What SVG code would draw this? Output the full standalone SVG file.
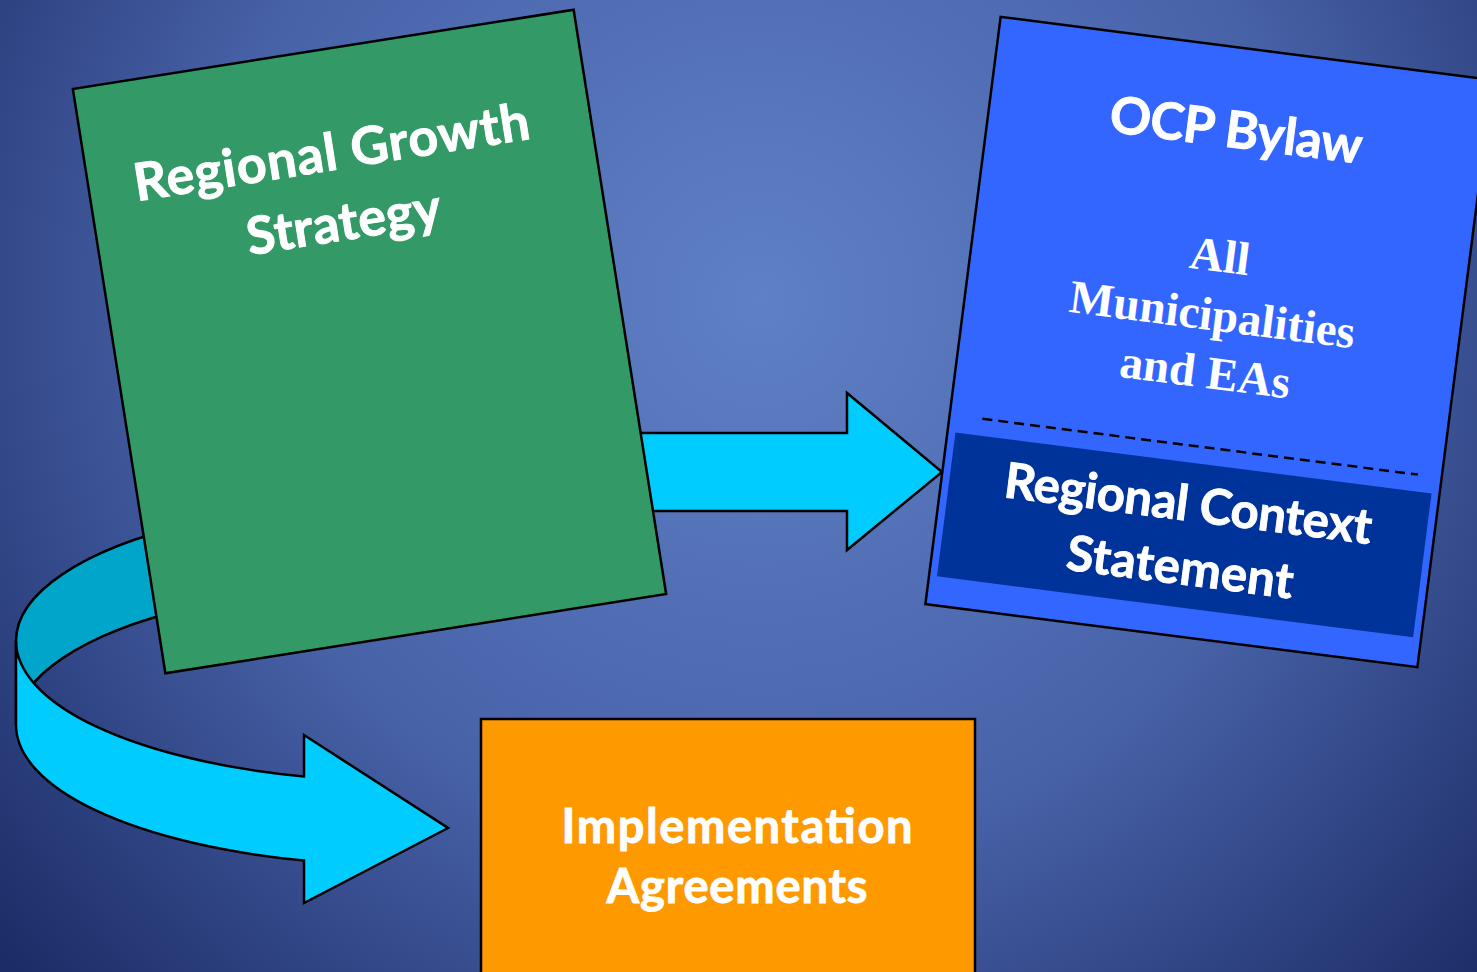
<svg xmlns="http://www.w3.org/2000/svg" width="1477" height="972" viewBox="0 0 1477 972">
<defs>
<radialGradient id="bg" gradientUnits="userSpaceOnUse" cx="760" cy="300" r="1000">
<stop offset="0" stop-color="#5f80c6"/>
<stop offset="0.55" stop-color="#4862a8"/>
<stop offset="1" stop-color="#1c2c66"/>
</radialGradient>
<style>
.ol{stroke:#000;stroke-width:2.5;stroke-linejoin:miter}
.sans{font-family:Lato,"Open Sans","Liberation Sans",sans-serif;font-weight:bold;fill:#fff;stroke:#fff;stroke-width:0.9;text-anchor:middle}
.serif{font-family:"Liberation Serif","Times New Roman",serif;font-weight:bold;fill:#fff;text-anchor:middle}
</style>
</defs>
<rect width="1477" height="972" fill="url(#bg)"/>
<g id="connectors">
<path class="ol" fill="#00a6c9" d="M190,523.8 A384 140 0 0 0 16 641 L16 725 A384 140 0 0 1 190 607.8 Z"/>
<path class="ol" fill="#00ccff" d="M16,641 A384 140 0 0 0 304 776.5 L304 735 L448 828 L304 903 L304 860.5 A384 140 0 0 1 16 725 Z"/>
<path class="ol" fill="#00ccff" d="M600,433 L847,433 L847,393 L942,472 L847,550 L847,511 L600,511 Z"/>
</g>
<g id="regional-growth-strategy" transform="translate(369.5,341.5) rotate(-9)">
<rect class="ol" x="-253.5" y="-295.75" width="507" height="591.5" fill="#339966"/>
<text class="sans" x="-8" y="-175" font-size="52" textLength="400" lengthAdjust="spacing">Regional Growth</text>
<text class="sans" x="-7" y="-104" font-size="52" textLength="196" lengthAdjust="spacing">Strategy</text>
</g>
<g id="ocp-bylaw" transform="translate(1209,342) rotate(7.3)">
<rect class="ol" x="-248" y="-296" width="496" height="592" fill="#3366ff"/>
<text class="sans" x="0" y="-196" font-size="51" textLength="254" lengthAdjust="spacing">OCP Bylaw</text>
<text class="serif" x="0" y="-71" font-size="47">All</text>
<text class="serif" x="0" y="-12" font-size="47">Municipalities</text>
<text class="serif" x="0" y="46" font-size="47">and EAs</text>
<line x1="-215" y1="105" x2="224" y2="105" stroke="#000" stroke-width="2.5" stroke-dasharray="10 6"/>
<g id="regional-context-statement">
<rect x="-240" y="122" width="480" height="145" fill="#003399"/>
<text class="sans" x="0" y="180" font-size="49" textLength="370" lengthAdjust="spacing">Regional Context</text>
<text class="sans" x="0" y="244" font-size="49" textLength="228" lengthAdjust="spacing">Statement</text>
</g>
</g>
<g id="implementation-agreements">
<rect class="ol" x="481" y="719" width="494" height="270" fill="#ff9900"/>
<text class="sans" x="737" y="843" font-size="47" textLength="351" lengthAdjust="spacing">Implementation</text>
<text class="sans" x="737" y="903" font-size="47" textLength="261" lengthAdjust="spacing">Agreements</text>
</g>
</svg>
